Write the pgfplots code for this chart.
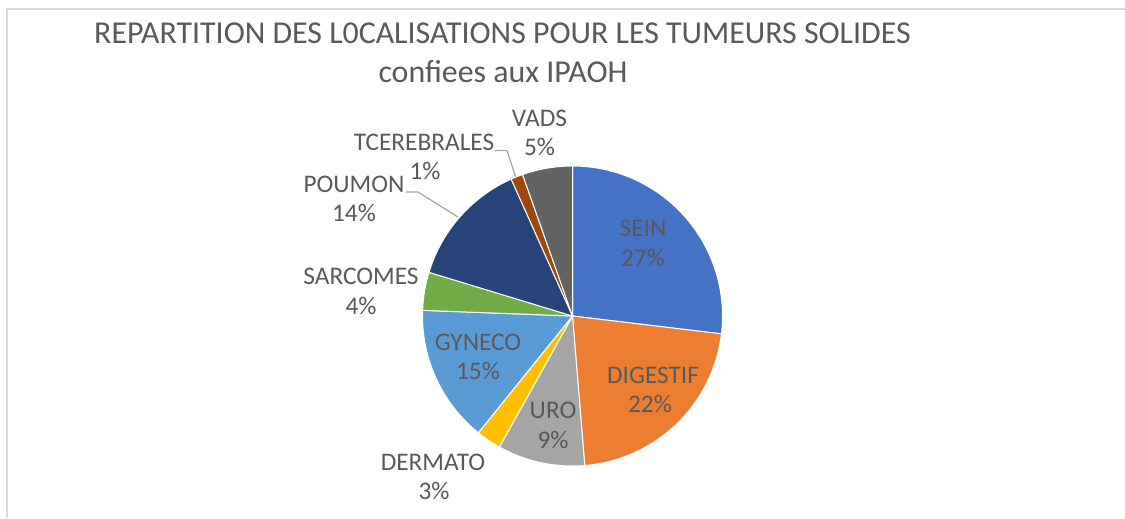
\documentclass[border=0pt]{standalone}
\usepackage{pgfplots}
\pgfplotsset{compat=1.18}
\usepackage{pgfplotstable}
\usepackage{fontspec}
\setmainfont{Carlito}
\definecolor{c1}{HTML}{4472C4}
\definecolor{c2}{HTML}{ED7D31}
\definecolor{c3}{HTML}{A5A5A5}
\definecolor{c4}{HTML}{FFC000}
\definecolor{c5}{HTML}{5B9BD5}
\definecolor{c6}{HTML}{70AD47}
\definecolor{c7}{HTML}{264478}
\definecolor{c8}{HTML}{9E480E}
\definecolor{c9}{HTML}{636363}
\definecolor{txt}{HTML}{595959}
\definecolor{bord}{HTML}{D9D9D9}
\definecolor{lead}{HTML}{A6A6A6}
\pgfplotstableread{
name value col
SEIN 26.9 c1
DIGESTIF 21.8 c2
URO 9.4 c3
DERMATO 2.7 c4
GYNECO 14.8 c5
SARCOMES 4.1 c6
POUMON 13.6 c7
TCEREBRALES 1.3 c8
VADS 5.4 c9
}\piedata
\begin{document}
\begin{tikzpicture}
\begin{axis}[
  x=0.75pt, y=0.75pt, y dir=reverse,
  xmin=0, xmax=1125, ymin=0, ymax=518,
  hide axis, clip=false, scale only axis,
]
\def\cum{0}
\pgfplotsforeachungrouped \i in {0,...,8}{
  \pgfplotstablegetelem{\i}{value}\of\piedata \let\sliceval=\pgfplotsretval
  \pgfplotstablegetelem{\i}{col}\of\piedata \let\slicecol=\pgfplotsretval
  \pgfmathsetmacro\aA{-90+3.6*\cum}
  \pgfmathsetmacro\aB{-90+3.6*(\cum+\sliceval)}
  \pgfmathsetmacro\cum{\cum+\sliceval}
  \edef\temp{\noexpand\addplot[fill=\slicecol, draw=white, line width=0.75pt, domain=\aA:\aB, samples=60] ({572.5+150*cos(x)},{316+150*sin(x)}) -- (axis cs:572.5,316) -- cycle;}
  \temp
}
\coordinate (bl) at (axis cs:0,518);
\coordinate (tr) at (axis cs:1125,0);
% border
\draw[bord, line width=1.5pt] (axis cs:7,518) -- (axis cs:7,8.5) -- (axis cs:1125,8.5);
% leader lines
\draw[lead, line width=0.9pt] (axis cs:406,192) -- (axis cs:418,192) -- (axis cs:458,217);
\draw[lead, line width=0.9pt] (axis cs:495,150.5) -- (axis cs:507,150.5) -- (axis cs:515.5,176.5);
% title
\node[txt, anchor=base, inner sep=0pt, font=\fontsize{23.9}{28}\selectfont] at (axis cs:502.5,43.3) {REPARTITION DES L0CALISATIONS POUR LES TUMEURS SOLIDES};
\node[txt, anchor=base, inner sep=0pt, font=\fontsize{23.9}{28}\selectfont] at (axis cs:503,82) {confiees aux IPAOH};
% labels
\tikzset{lab/.style={txt, anchor=base, inner sep=0pt, font=\fontsize{19}{23}\selectfont}}
\node[lab] at (axis cs:643,236) {SEIN};
\node[lab] at (axis cs:643,266) {27\%};
\node[lab] at (axis cs:653,383) {DIGESTIF};
\node[lab] at (axis cs:650,412) {22\%};
\node[lab] at (axis cs:553,418.3) {URO};
\node[lab] at (axis cs:553,448) {9\%};
\node[lab] at (axis cs:433,470.7) {DERMATO};
\node[lab] at (axis cs:434,499) {3\%};
\node[lab] at (axis cs:478,350) {GYNECO};
\node[lab] at (axis cs:478,379) {15\%};
\node[lab] at (axis cs:361,284.5) {SARCOMES};
\node[lab] at (axis cs:361,314) {4\%};
\node[lab] at (axis cs:354,192) {POUMON};
\node[lab] at (axis cs:354,221) {14\%};
\node[lab] at (axis cs:424,150) {TCEREBRALES};
\node[lab] at (axis cs:425,179) {1\%};
\node[lab] at (axis cs:539.5,126.7) {VADS};
\node[lab] at (axis cs:539.5,155) {5\%};
\end{axis}
\pgfresetboundingbox
\path[use as bounding box] (bl) rectangle (tr);
\end{tikzpicture}
\end{document}
